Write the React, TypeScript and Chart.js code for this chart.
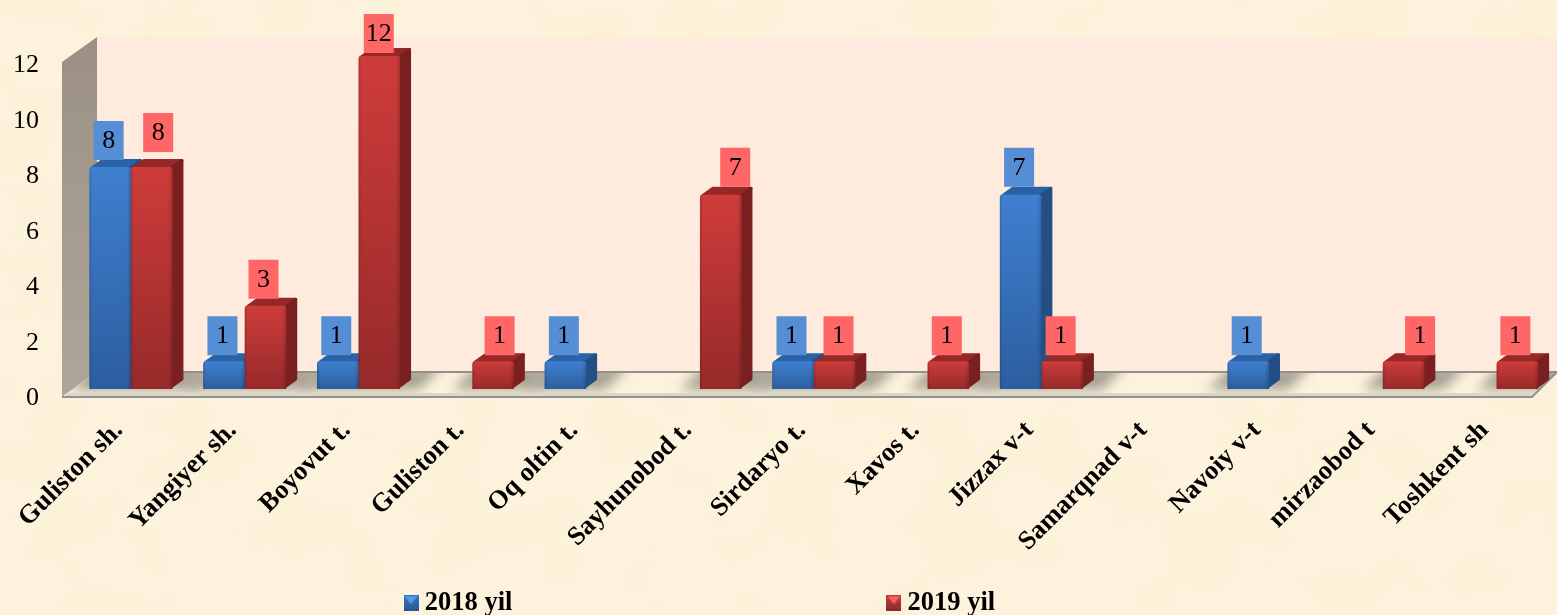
import React, { useEffect, useRef } from "react";
import { Chart, registerables } from "chart.js";

Chart.register(...registerables);

const categories = [
  "Guliston sh.", "Yangiyer sh.", "Boyovut t.", "Guliston t.", "Oq oltin t.",
  "Sayhunobod t.", "Sirdaryo t.", "Xavos t.", "Jizzax v-t", "Samarqnad v-t",
  "Navoiy v-t", "mirzaobod t", "Toshkent sh",
];
const series2018 = [8, 1, 1, null, 1, null, 1, null, 7, null, 1, null, null];
const series2019 = [8, 3, 12, 1, null, 7, 1, 1, 1, null, null, 1, 1];
const seriesNames = ["2018 yil", "2019 yil"];
const yTicks = [0, 2, 4, 6, 8, 10, 12];

const W = 1557;
const H = 615;
const SERIF = '"Liberation Serif", "Times New Roman", serif';

// depth of the pseudo-3D box and bars
const DX = 11;
const DY = 8;

const palette = [
  { grad: ["#3F80D0", "#2C5E9F"], side: "#234F85", top: "#2B62A6", label: "#558ED5" },
  { grad: ["#CE3C3A", "#962A2A"], side: "#7A2020", top: "#962828", label: "#FF6666" },
];

// label box nudges (dx from bar centre, gap above bar top), per series and category
const labelNudge: Record<string, [number, number]> = {
  "0:0": [-1.5, 7],
  "1:0": [6.5, 15], "1:1": [-2, 7], "1:2": [-0.5, 3], "1:3": [6.5, 6], "1:5": [14.5, 8],
  "1:6": [4, 6], "1:7": [-1.5, 6], "1:8": [-1.5, 6], "1:11": [16.5, 6], "1:12": [-2, 6],
  "0:8": [-1.5, 8],
};

const boxPlugin = {
  id: "box3d",
  afterLayout(chart: any) {
    const lg = chart.legend;
    if (lg) {
      const pad = lg.options.labels.padding;
      lg.left = 410.5 - pad;
      lg.right = W;
      lg.top = 590 - pad;
      lg.bottom = H;
    }
  },
  beforeDatasetsDraw(chart: any) {
    const { ctx, chartArea: a, scales } = chart;
    const y0 = scales.y.getPixelForValue(0);
    const y12 = scales.y.getPixelForValue(12);
    const frontL = a.left - 12;
    const backL = a.left + 23;
    const frontR = a.right - 21.5;
    const backR = a.right + 3.5;
    const backB = y0 - 17;
    const frontB = y0 + 8;
    const backT = y12 - 19;
    const frontT = y12 + 6;
    ctx.save();
    // back wall
    ctx.fillStyle = "#FEEBDD";
    ctx.fillRect(backL, backT, backR - backL, backB - backT);
    // left wall
    const g = ctx.createLinearGradient(0, backT, 0, frontB);
    g.addColorStop(0, "#9C9085");
    g.addColorStop(1, "#AEA699");
    ctx.fillStyle = g;
    ctx.beginPath();
    ctx.moveTo(frontL, frontT);
    ctx.lineTo(backL, backT);
    ctx.lineTo(backL, backB);
    ctx.lineTo(frontL, frontB);
    ctx.closePath();
    ctx.fill();
    // floor
    const floor = new Path2D();
    floor.moveTo(frontL, frontB);
    floor.lineTo(backL, backB);
    floor.lineTo(backR, backB);
    floor.lineTo(frontR, frontB);
    floor.closePath();
    ctx.fillStyle = "#FCF3DE";
    ctx.fill(floor);
    // bar shadows on floor
    ctx.save();
    ctx.clip(floor);
    ctx.filter = "blur(6px)";
    ctx.fillStyle = "#A8A294";
    chart.data.labels.forEach((_: string, i: number) => {
      const bars = [0, 1]
        .map((d) => ({ el: chart.getDatasetMeta(d).data[i], v: chart.data.datasets[d].data[i] }))
        .filter((b) => b.v != null)
        .map((b) => b.el);
      if (!bars.length) return;
      const l = Math.min(...bars.map((b: any) => b.x - b.width / 2));
      const r = Math.max(...bars.map((b: any) => b.x + b.width / 2));
      ctx.beginPath();
      ctx.moveTo(l - 20, y0 + 1);
      ctx.lineTo(l + 4, backB - 6);
      ctx.lineTo(r + DX + 32, backB - 6);
      ctx.lineTo(r + DX + 8, y0 + 1);
      ctx.closePath();
      ctx.fill();
    });
    ctx.restore();
    // front lip fade and edges
    ctx.fillStyle = "#DCD6C4";
    ctx.fillRect(frontL + 4, frontB - 4, frontR - frontL - 4, 3);
    ctx.strokeStyle = "#8E9296";
    ctx.lineWidth = 2;
    ctx.beginPath();
    ctx.moveTo(frontL, frontB);
    ctx.lineTo(frontR, frontB);
    ctx.lineTo(backR, backB);
    ctx.stroke();
    ctx.strokeStyle = "#949089";
    ctx.beginPath();
    ctx.moveTo(backL, backB);
    ctx.lineTo(backR, backB);
    ctx.stroke();
    // 3D sides and tops of bars, softened with round joins
    ctx.lineJoin = "round";
    ctx.lineWidth = 3;
    [0, 1].forEach((d) => {
      const p = palette[d];
      chart.getDatasetMeta(d).data.forEach((el: any, i: number) => {
        if (chart.data.datasets[d].data[i] == null) return;
        const l = el.x - el.width / 2 + 2;
        const r = el.x + el.width / 2 - 1.5;
        const t = el.y + 1.5;
        const b = el.base - 2;
        ctx.fillStyle = p.top;
        ctx.strokeStyle = p.top;
        ctx.beginPath();
        ctx.moveTo(l, t);
        ctx.lineTo(l + DX, t - DY);
        ctx.lineTo(r + DX, t - DY);
        ctx.lineTo(r, t);
        ctx.closePath();
        ctx.fill();
        ctx.stroke();
        ctx.fillStyle = p.side;
        ctx.strokeStyle = p.side;
        ctx.beginPath();
        ctx.moveTo(r, t);
        ctx.lineTo(r + DX, t - DY);
        ctx.lineTo(r + DX, b - DY);
        ctx.lineTo(r, b);
        ctx.closePath();
        ctx.fill();
        ctx.stroke();
      });
    });
    ctx.restore();
  },
  afterDatasetDraw(chart: any, args: any) {
    // soft bevel along the edges of each bar's front face
    const { ctx } = chart;
    const d = args.index;
    ctx.save();
    args.meta.data.forEach((el: any, i: number) => {
      if (chart.data.datasets[d].data[i] == null) return;
      const l = el.x - el.width / 2;
      const r = el.x + el.width / 2;
      const g = ctx.createLinearGradient(l, 0, r, 0);
      g.addColorStop(0, "rgba(0,0,0,0.16)");
      g.addColorStop(0.07, "rgba(0,0,0,0)");
      g.addColorStop(0.9, "rgba(0,0,0,0)");
      g.addColorStop(1, "rgba(0,0,0,0.18)");
      ctx.fillStyle = g;
      ctx.fillRect(l, el.y + 2, r - l, el.base - el.y - 2);
    });
    ctx.restore();
  },
  afterDatasetsDraw(chart: any) {
    const { ctx } = chart;
    ctx.save();
    ctx.font = `26px ${SERIF}`;
    ctx.textAlign = "center";
    ctx.textBaseline = "middle";
    [0, 1].forEach((d) => {
      chart.getDatasetMeta(d).data.forEach((el: any, i: number) => {
        const v = chart.data.datasets[d].data[i];
        if (v == null) return;
        const [dx, gap] = labelNudge[`${d}:${i}`] || [-1.5, 6];
        const cx = el.x + dx;
        const bottom = el.y - gap;
        ctx.fillStyle = palette[d].label;
        ctx.fillRect(cx - 15, bottom - 39, 30, 39);
        ctx.fillStyle = "#000";
        ctx.fillText(String(v), cx, bottom - 19);
      });
    });
    ctx.restore();
  },
};

function legendMarker(d: number) {
  const c = document.createElement("canvas");
  c.width = 15;
  c.height = 16;
  const x = c.getContext("2d")!;
  const light = d === 0 ? "#4F9BE8" : "#F0605C";
  const mid = d === 0 ? "#3A74BD" : "#C23A38";
  const dark = d === 0 ? "#2A558F" : "#8E2A2A";
  const g = x.createLinearGradient(0, 0, 0, 16);
  g.addColorStop(0, mid);
  g.addColorStop(1, dark);
  x.fillStyle = g;
  x.fillRect(0, 0, 15, 16);
  x.fillStyle = light;
  x.beginPath();
  x.moveTo(1, 1);
  x.lineTo(14, 1);
  x.lineTo(7.5, 9);
  x.closePath();
  x.fill();
  return c;
}

const texture =
  "data:image/svg+xml," +
  encodeURIComponent(
    `<svg xmlns='http://www.w3.org/2000/svg' width='${W}' height='${H}'><filter id='n'><feTurbulence type='fractalNoise' baseFrequency='0.012 0.016' numOctaves='4' seed='7'/><feColorMatrix values='0 0 0 0 0.96  0 0 0 0 0.86  0 0 0 0 0.62  0.9 0 0 0 -0.32'/></filter><rect width='100%' height='100%' filter='url(#n)'/></svg>`
  );

export default function App() {
  const ref = useRef<HTMLCanvasElement>(null);
  useEffect(() => {
    document.body.style.margin = "0";
    const gradFor = (d: number) => (c: any) => {
      const flat = palette[d].grad[0];
      if (c.type !== "data") return flat;
      const { chart, parsed } = c;
      const ys = chart.scales.y;
      if (!ys || !parsed || parsed.y == null) return flat;
      const top = ys.getPixelForValue(parsed.y);
      const base = ys.getPixelForValue(0);
      if (!Number.isFinite(top) || !Number.isFinite(base)) return flat;
      const g = chart.ctx.createLinearGradient(0, top, 0, base);
      g.addColorStop(0, palette[d].grad[0]);
      g.addColorStop(1, palette[d].grad[1]);
      return g;
    };
    const chart = new Chart(ref.current!, {
      type: "bar",
      data: {
        labels: categories,
        datasets: [
          { label: seriesNames[0], data: series2018, backgroundColor: gradFor(0), borderRadius: 3 },
          { label: seriesNames[1], data: series2019, backgroundColor: gradFor(1), borderRadius: 3 },
        ],
      },
      options: {
        responsive: false,
        animation: false,
        events: [],
        layout: { padding: { top: 56, right: 3.5, left: 0, bottom: 0 } },
        datasets: { bar: { categoryPercentage: 0.73, barPercentage: 1 } },
        scales: {
          x: {
            grid: { display: false },
            border: { display: false },
            afterFit: (s: any) => { s.height = 186; },
            ticks: {
              autoSkip: false,
              minRotation: 45,
              maxRotation: 45,
              padding: 18,
              labelOffset: -12,
              color: "#000",
              font: { family: SERIF, size: 26.5, weight: "bold" },
            },
          },
          y: {
            min: 0,
            max: 12,
            grid: { display: false },
            border: { display: false },
            afterFit: (s: any) => { s.width = 74; },
            afterBuildTicks: (s: any) => { s.ticks = yTicks.map((value) => ({ value })); },
            ticks: {
              padding: 27,
              labelOffset: 9.5,
              color: "#000",
              font: { family: SERIF, size: 26 },
            },
          },
        },
        plugins: {
          tooltip: { enabled: false },
          legend: {
            position: "bottom",
            align: "start",
            maxHeight: 40,
            labels: {
              padding: 381,
              usePointStyle: true,
              pointStyleWidth: 1,
              boxHeight: 16,
              color: "#000",
              font: { family: SERIF, size: 26.5, weight: "bold" },
              generateLabels: (ch: any) =>
                Chart.defaults.plugins.legend.labels.generateLabels(ch).map((it: any, i: number) => ({
                  ...it,
                  pointStyle: legendMarker(i),
                })),
            },
          },
        },
      } as any,
      plugins: [boxPlugin],
    });
    return () => chart.destroy();
  }, []);
  return (
    <div
      style={{
        position: "fixed",
        left: 0,
        top: 0,
        width: W,
        height: H,
        overflow: "hidden",
        backgroundColor: "#FDF3DD",
        backgroundImage: `url("${texture}")`,
      }}
    >
      <canvas ref={ref} width={W} height={H} style={{ display: "block" }} />
    </div>
  );
}
